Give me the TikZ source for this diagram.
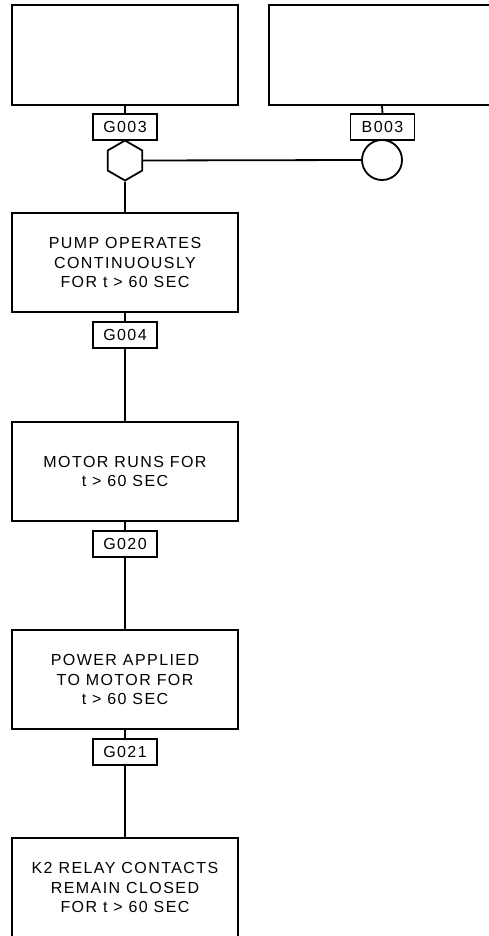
\documentclass[tikz,border=0pt]{standalone}
\usepackage{fontspec}
\setmainfont{Liberation Sans}
\newfontfamily\ftafont[LetterSpace=9]{Liberation Sans}
\usetikzlibrary{shapes.geometric}

\begin{document}
\begin{tikzpicture}[x=1pt, y=-1pt, line width=1.8pt,
  event/.style={draw, minimum width=226pt, minimum height=99pt, inner sep=0pt,
    align=center, font=\ftafont\fontsize{16}{19.5}\selectfont},
  tag/.style={draw, minimum width=64pt, minimum height=26pt, inner sep=0pt,
    font=\ftafont\fontsize{16}{18}\selectfont},
  andgate/.style={draw, regular polygon, regular polygon sides=6,
    shape border rotate=30, minimum size=40pt, inner sep=0pt},
  basic/.style={draw, circle, minimum size=40pt, inner sep=0pt}]
  \useasboundingbox (0,0) rectangle (488,936);
  % Top events
  \node[event, minimum height=100pt] (top1) at (125,55) {};
  \node[event, minimum height=100pt] (top2) at (382,55) {};
  \node[tag] (g003) at (125,127) {G003};
  \node[tag] (b003) at (382.5,127) {B003};
  \draw (top1.south) -- (g003.north);
  \draw (top2.south) -- (b003.north);
  % Gate and basic event
  \node[andgate] (hx) at (125,160.5) {};
  \node[basic] (b3) at (382,160) {};
  \draw (hx.east) -- (b3.west);
  % Chain of events
  \node[event] (pump) at (125,262.5) {PUMP OPERATES\\CONTINUOUSLY\\FOR t > 60 SEC};
  \node[tag] (g004) at (125,335) {G004};
  \node[event] (motor) at (125,471.5) {MOTOR RUNS FOR\\t > 60 SEC};
  \node[tag] (g020) at (125,544) {G020};
  \node[event] (power) at (125,679.5) {POWER APPLIED\\TO MOTOR FOR\\t > 60 SEC};
  \node[tag] (g021) at (125,752) {G021};
  \node[event] (k2) at (125,887.5) {K2 RELAY CONTACTS\\REMAIN CLOSED\\FOR t > 60 SEC};
  \draw (hx.south) -- (pump.north);
  \draw (pump.south) -- (g004.north);
  \draw (g004.south) -- (motor.north);
  \draw (motor.south) -- (g020.north);
  \draw (g020.south) -- (power.north);
  \draw (power.south) -- (g021.north);
  \draw (g021.south) -- (k2.north);
\end{tikzpicture}
\end{document}
